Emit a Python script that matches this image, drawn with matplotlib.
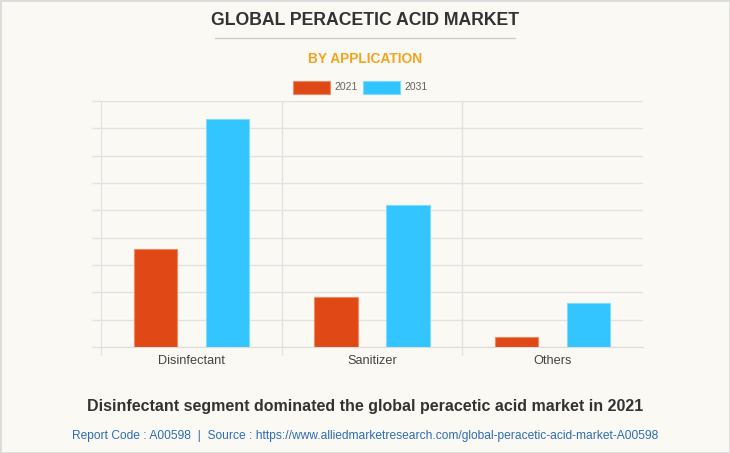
import matplotlib
matplotlib.use("Agg")
import matplotlib.pyplot as plt
from matplotlib.patches import Rectangle
from matplotlib.lines import Line2D
import numpy as np

categories = ["Disinfectant", "Sanitizer", "Others"]
series_names = ["2021", "2031"]
values_2021 = [358, 183, 36]
values_2031 = [835, 520, 162]
y_ticks = [0, 100, 200, 300, 400, 500, 600, 700, 800, 900]

colors = ["#e04916", "#32c5ff"]
edge_colors = ["#f08a63", "#7fdcff"]
bg = "#faf9f4"

W, H = 730, 453
fig = plt.figure(figsize=(W / 100, H / 100), dpi=100)
fig.patch.set_facecolor(bg)

def fx(px):
    return px / W

def fy(py):
    return 1 - py / H

# border
fig.add_artist(Rectangle((0, 0), 1, 1, transform=fig.transFigure, fill=False,
                         edgecolor="#dcdcdc", linewidth=2.0))

ax = fig.add_axes([fx(101), fy(347), fx(643) - fx(101), fy(101) - fy(347)])
ax.set_facecolor(bg)
x = np.arange(len(categories))
bw = 0.24
off = 0.2
for i, (vals, c, ec) in enumerate(zip([values_2021, values_2031], colors, edge_colors)):
    ax.bar(x + (i * 2 - 1) * off, vals, width=bw, color=c, edgecolor=ec,
           linewidth=0.8, zorder=3)

ax.set_xlim(-0.5, 2.5)
ax.set_ylim(0, 900)
ax.set_yticks(y_ticks)
ax.set_yticklabels([])
ax.tick_params(axis="y", length=6.5, color="#e2e2e2", width=1)
ax.yaxis.grid(True, color="#e2e2e2", linewidth=1, zorder=0)
ax.set_xticks(x)
ax.set_xticklabels(categories, fontsize=9.2, color="#444444", family="Liberation Sans")
ax.tick_params(axis="x", length=0, pad=6)
ax.set_xticks([-0.5, 0.5, 1.5], minor=True)
ax.tick_params(axis="x", which="minor", length=5.5, color="#e2e2e2", width=1)
for b in [0.5, 1.5]:
    ax.axvline(b, color="#e2e2e2", linewidth=1, zorder=0)
for s in ["top", "right"]:
    ax.spines[s].set_visible(False)
ax.spines["left"].set_color("#e2e2e2")
ax.spines["bottom"].set_color("#dddddd")
ax.spines["left"].set_bounds(0, 900)

# titles
fig.text(fx(365), fy(20.5), "GLOBAL PERACETIC ACID MARKET", ha="center", va="center",
         fontsize=12.7, fontweight="bold", color="#333333", family="Liberation Sans")
fig.add_artist(Line2D([fx(215), fx(515)], [fy(37.5), fy(37.5)], transform=fig.transFigure,
                      color="#cccccc", linewidth=1))
fig.text(fx(365), fy(59), "BY APPLICATION", ha="center", va="center",
         fontsize=9.9, fontweight="bold", color="#f5a31f", family="Liberation Sans")

# legend
lx = [293, 363]
for i, name in enumerate(series_names):
    fig.add_artist(Rectangle((fx(lx[i]), fy(94)), fx(37), fy(81) - fy(94),
                             transform=fig.transFigure, facecolor=colors[i],
                             edgecolor=edge_colors[i], linewidth=0.8))
    fig.text(fx(lx[i] + 41), fy(87.5), name, ha="left", va="center",
             fontsize=7.5, color="#666666", family="Liberation Sans")

fig.text(fx(365), fy(407), "Disinfectant segment dominated the global peracetic acid market in 2021",
         ha="center", va="center", fontsize=11.55, fontweight="bold", color="#333333",
         family="Liberation Sans")
fig.text(fx(365), fy(436),
         "Report Code : A00598  |  Source : https://www.alliedmarketresearch.com/global-peracetic-acid-market-A00598",
         ha="center", va="center", fontsize=8.65, color="#2f6db5", family="Liberation Sans")

fig.savefig("out.png", dpi=100, facecolor=bg)
